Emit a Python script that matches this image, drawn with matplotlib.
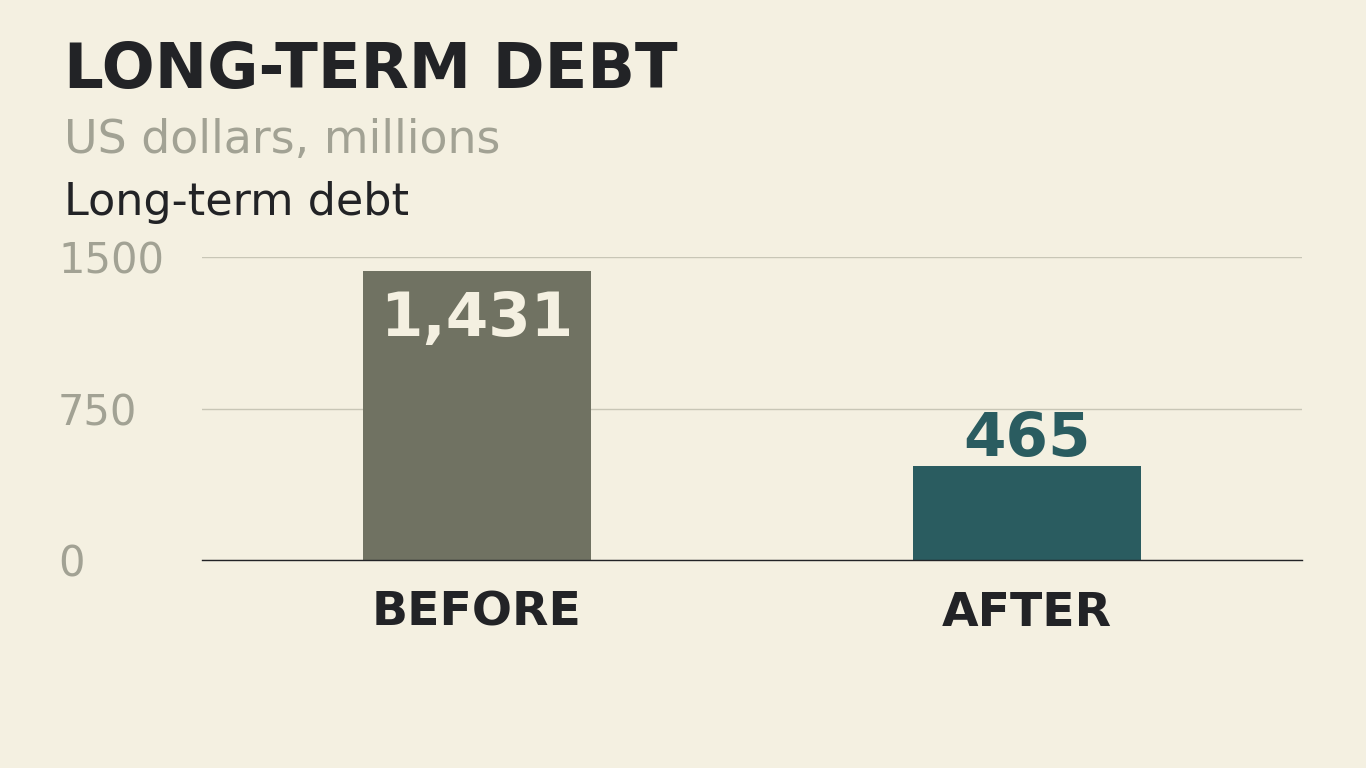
import matplotlib
matplotlib.use("Agg")
import matplotlib.pyplot as plt

categories = ["BEFORE", "AFTER"]
values = [1431, 465]
value_labels = ["1,431", "465"]
bar_colors = ["#707262", "#2a5c60"]
label_colors = ["#f4f0e1", "#2a5c60"]
yticks = [0, 750, 1500]

BG = "#f4f0e1"
DARK = "#222326"
GRAY = "#a2a294"

plt.rcParams['font.family'] = ['DejaVu Sans']
fig = plt.figure(figsize=(13.66, 7.68), dpi=100, facecolor=BG)
ax = fig.add_axes([202/1366, 208/768, 1100/1366, 303/768], facecolor=BG)

x = list(range(len(categories)))
bars = ax.bar(x, values, width=0.416, color=bar_colors, zorder=3)
ax.set_xlim(-0.5, 1.5)
ax.set_ylim(0, 1500)

for xi, v, lab, c in zip(x, values, value_labels, label_colors):
    if v > 1000:
        ax.annotate(lab, (xi, v), xytext=(0, -13.5), textcoords="offset points",
                    ha="center", va="top", fontsize=44, fontweight="bold", color=c, zorder=4)
    else:
        ax.annotate(lab, (xi, v), xytext=(0, 7), textcoords="offset points",
                    ha="center", va="baseline", fontsize=44, fontweight="bold", color=c, zorder=4)

ax.set_yticks(yticks)
ax.set_yticklabels([str(t) for t in yticks], fontsize=30, color=GRAY)
for lbl in ax.get_yticklabels():
    lbl.set_horizontalalignment("left")
ax.tick_params(axis="y", length=0, pad=144*0.72)
ax.set_xticks(x)
ax.set_xticklabels(categories, fontsize=34, fontweight="bold", color=DARK)
ax.tick_params(axis="x", length=0, pad=22)

ax.grid(axis="y", color="#c8c6b6", linewidth=1, zorder=0)
for s in ["top", "right", "left"]:
    ax.spines[s].set_visible(False)
ax.spines["bottom"].set_color(DARK)
ax.spines["bottom"].set_linewidth(1)
ax.spines["bottom"].set_zorder(5)

fig.text(64/1366, 1 - 88/768, "LONG-TERM DEBT", fontsize=45, fontweight="bold",
         color=DARK, ha="left", va="baseline")
fig.text(64/1366, 1 - 153/768, "US dollars, millions", fontsize=33,
         color=GRAY, ha="left", va="baseline")
fig.text(64/1366, 1 - 215/768, "Long-term debt", fontsize=32,
         color=DARK, ha="left", va="baseline")

fig.savefig("out.png", dpi=100, facecolor=BG)
